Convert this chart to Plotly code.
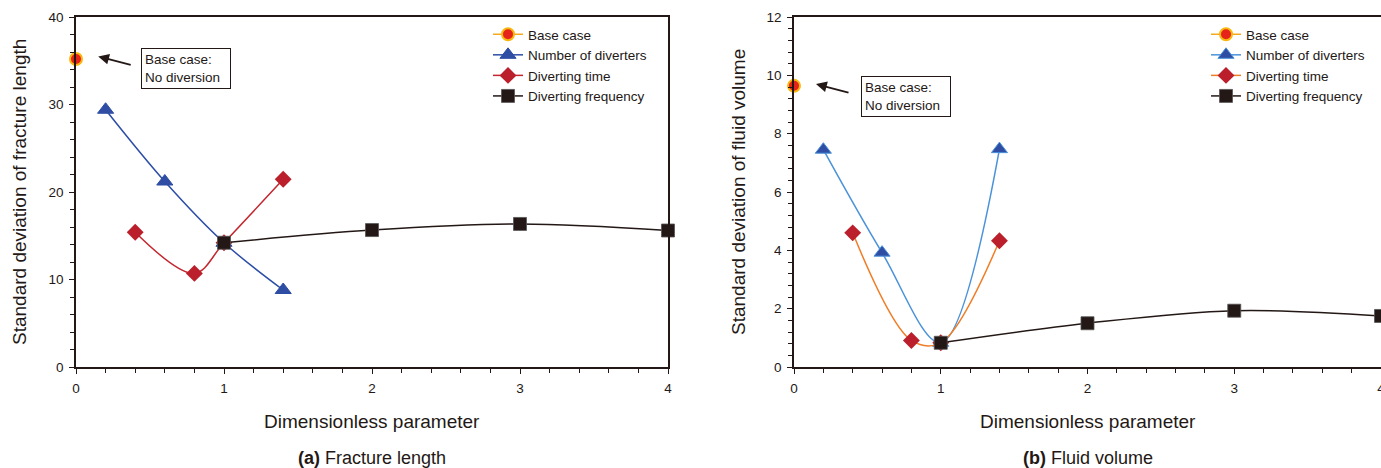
import plotly.graph_objects as go

# ---------------- data ----------------
x_base = [0.0]
x_num = [0.2, 0.6, 1.0, 1.4]
x_time = [0.4, 0.8, 1.0, 1.4]
x_freq = [1.0, 2.0, 3.0, 4.0]

# (a) fracture length
fl_base = [35.2]
fl_num = [29.4, 21.2, 14.2, 8.8]
fl_time = [15.4, 10.7, 14.2, 21.45]
fl_freq = [14.2, 15.65, 16.35, 15.6]

# (b) fluid volume
fv_base = [9.64]
fv_num = [7.45, 3.92, 0.83, 7.47]
fv_time = [4.6, 0.91, 0.83, 4.33]
fv_freq = [0.83, 1.5, 1.93, 1.75]

series_names = ["Base case", "Number of diverters", "Diverting time", "Diverting frequency"]
x_ticks = [0, 1, 2, 3, 4]
fl_ticks = [0, 10, 20, 30, 40]
fv_ticks = [0, 2, 4, 6, 8, 10, 12]

FONT = "Liberation Sans, Arial, sans-serif"
INK = "#231815"

fig = go.Figure()

def add_panel(xa, ya, legend, ys, line_cols):
    base, num, time, freq = ys
    fig.add_trace(go.Scatter(
        x=x_base, y=base, name=series_names[0], mode="lines+markers",
        line=dict(color="#F5A81C", width=1.5),
        marker=dict(symbol="circle", size=12, color="#E5231B",
                    line=dict(color="#F8B80F", width=2)),
        xaxis=xa, yaxis=ya, legend=legend, cliponaxis=False))
    fig.add_trace(go.Scatter(
        x=x_num, y=num, name=series_names[1], mode="lines+markers",
        line=dict(color=line_cols[0], width=1.5, shape="spline", smoothing=1),
        marker=dict(symbol="triangle-up", size=14, color="#2F4EA3",
                    line=dict(color=line_cols[0], width=1)),
        xaxis=xa, yaxis=ya, legend=legend, cliponaxis=False))
    fig.add_trace(go.Scatter(
        x=x_time, y=time, name=series_names[2], mode="lines+markers",
        line=dict(color=line_cols[1], width=1.5, shape="spline", smoothing=1),
        marker=dict(symbol="diamond", size=13, color="#BA1F2B",
                    line=dict(color="#BA1F2B", width=0)),
        xaxis=xa, yaxis=ya, legend=legend, cliponaxis=False))
    fig.add_trace(go.Scatter(
        x=x_freq, y=freq, name=series_names[3], mode="lines+markers",
        line=dict(color=INK, width=1.5, shape="spline", smoothing=1),
        marker=dict(symbol="square", size=13, color=INK,
                    line=dict(color="#555555", width=0.8)),
        xaxis=xa, yaxis=ya, legend=legend, cliponaxis=False))

add_panel("x", "y", "legend", [fl_base, fl_num, fl_time, fl_freq], ["#2C4DA6", "#C4262E"])
add_panel("x2", "y2", "legend2", [fv_base, fv_num, fv_time, fv_freq], ["#4A92DA", "#F07D26"])

W, H = 1381, 468
L1, R1 = 76, 668
L2, R2 = 794, 1381
TOP, BOT = 17, 367
ydom = [(H - BOT) / H, (H - TOP) / H]

axis_common = dict(
    showline=True, linecolor=INK, linewidth=1.5,
    ticks="outside", ticklen=5, tickwidth=1, tickcolor=INK,
    showgrid=False, zeroline=False, automargin=False,
    tickfont=dict(family=FONT, size=13.5, color=INK),
    ticklabelstandoff=3,
)

fig.update_layout(
    width=W, height=H,
    margin=dict(l=0, r=0, t=0, b=0, pad=0, autoexpand=False),
    paper_bgcolor="white", plot_bgcolor="white",
    font=dict(family=FONT, color=INK),
    xaxis=dict(domain=[L1 / W, R1 / W], range=[0, 4], tickvals=x_ticks, mirror=True,
               minor=dict(dtick=0.2, ticks="outside", ticklen=4, tickcolor=INK), **axis_common),
    yaxis=dict(domain=ydom, range=[0, 40], tickvals=fl_ticks, mirror=True,
               minor=dict(dtick=2, ticks="outside", ticklen=4, tickcolor=INK), **axis_common),
    xaxis2=dict(domain=[L2 / W, R2 / W], range=[0, 4], tickvals=x_ticks, mirror=True,
                anchor="y2", ticklabeloverflow="allow",
                minor=dict(dtick=0.2, ticks="outside", ticklen=4, tickcolor=INK), **axis_common),
    yaxis2=dict(domain=ydom, range=[0, 12], tickvals=fv_ticks, mirror=False, anchor="x2",
                minor=dict(dtick=0.4, ticks="outside", ticklen=4, tickcolor=INK), **axis_common),
    legend=dict(x=(531 - 43) / W, y=(H - 19) / H, xanchor="left", yanchor="top",
                bgcolor="rgba(0,0,0,0)", font=dict(family=FONT, size=13.5, color=INK),
                tracegroupgap=0),
    legend2=dict(x=(1249 - 43) / W, y=(H - 19) / H, xanchor="left", yanchor="top",
                 bgcolor="rgba(0,0,0,0)", font=dict(family=FONT, size=13.5, color=INK),
                 tracegroupgap=0),
    showlegend=True,
)

ann = []
# axis titles & captions
for cx, cap in [((L1 + R1) / 2, "<b>(a)</b> Fracture length"),
                ((L2 + R2) / 2, "<b>(b)</b> Fluid volume")]:
    ann.append(dict(text="Dimensionless parameter", x=cx / W, y=(H - 421) / H, xref="paper", yref="paper",
                    xanchor="center", yanchor="middle", showarrow=False,
                    font=dict(family=FONT, size=19, color=INK)))
    ann.append(dict(text=cap, x=cx / W, y=(H - 458) / H, xref="paper", yref="paper",
                    xanchor="center", yanchor="middle", showarrow=False,
                    font=dict(family=FONT, size=18, color=INK)))
ann.append(dict(text="Standard deviation of fracture length", x=19 / W, y=(H - 192) / H,
                xref="paper", yref="paper", textangle=-90, xanchor="center", yanchor="middle",
                showarrow=False, font=dict(family=FONT, size=19, color=INK)))
ann.append(dict(text="Standard deviation of fluid volume", x=738 / W, y=(H - 192) / H,
                xref="paper", yref="paper", textangle=-90, xanchor="center", yanchor="middle",
                showarrow=False, font=dict(family=FONT, size=19, color=INK)))

# "Base case: No diversion" boxes with arrows
for xr, yr, hx, hy, bx, by in [("x", "y", 0.15, 35.5, 0.745, 34.1),
                                ("x2", "y2", 0.15, 9.7, 0.76, 9.26)]:
    ann.append(dict(text="", x=hx, y=hy, xref=xr, yref=yr, showarrow=True,
                    ax=34, ay=9, arrowhead=2, arrowsize=1.2, arrowwidth=1.8, arrowcolor=INK))
    ann.append(dict(text="Base case:<br>No diversion", x=bx, y=by, xref=xr, yref=yr,
                    showarrow=False, align="left", width=82, borderpad=3,
                    bordercolor=INK, borderwidth=1, bgcolor="white",
                    font=dict(family=FONT, size=13.5, color=INK)))

fig.update_layout(annotations=ann)

fig.write_html("out.html")
